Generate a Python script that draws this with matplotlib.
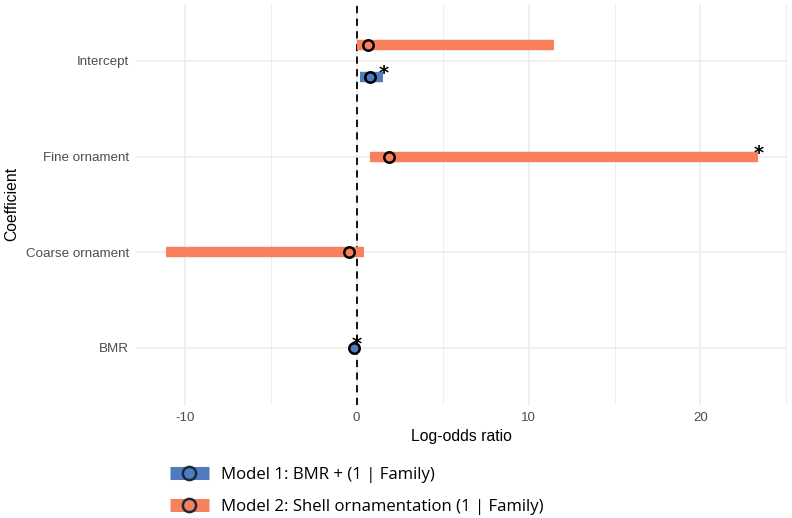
import numpy as np
import matplotlib
matplotlib.use("Agg")
import matplotlib.pyplot as plt
from matplotlib.lines import Line2D

plt.rcParams["font.family"] = ["Liberation Sans", "DejaVu Sans"]
plt.rcParams["axes.unicode_minus"] = False

# coefficient rows, bottom to top
terms = ["BMR", "Coarse ornament", "Fine ornament", "Intercept"]

# Model 1: BMR + (1 | Family)
m1_terms = ["BMR", "Intercept"]
m1_est = [-0.14, 0.77]
m1_lo = [-0.3, 0.19]
m1_hi = [-0.02, 1.55]
m1_sig = [True, True]

# Model 2: Shell ornamentation (1 | Family)
m2_terms = ["Coarse ornament", "Fine ornament", "Intercept"]
m2_est = [-0.43, 1.86, 0.66]
m2_lo = [-11.1, 0.78, 0.0]
m2_hi = [0.42, 23.33, 11.5]
m2_sig = [False, True, False]

labels = ["Model 1: BMR + (1 | Family)", "Model 2: Shell ornamentation (1 | Family)"]
colors = ["#4f7cbf", "#f8805c"]

W, H = 792, 518
fig = plt.figure(figsize=(W / 100, H / 100), dpi=100)
ax = fig.add_axes([136.3 / W, (H - 405) / H, (787.3 - 136.3) / W, (405 - 3.6) / H])

ypos = {t: i + 1 for i, t in enumerate(terms)}
both = set(m1_terms) & set(m2_terms)
dodge = 0.167

models = [
    (m1_terms, m1_est, m1_lo, m1_hi, m1_sig, -dodge),
    (m2_terms, m2_est, m2_lo, m2_hi, m2_sig, dodge),
]
for k, (tt, est, lo, hi, sig, off) in enumerate(models):
    for t, e, l, h, s in zip(tt, est, lo, hi, sig):
        y = ypos[t] + (off if t in both else 0)
        ax.plot([l, h], [y, y], color=colors[k], lw=7.5, solid_capstyle="butt", zorder=3)
        ax.plot(e, y, "o", ms=7.5, mfc=colors[k], mec="black", mew=1.8, zorder=4)
        if s:
            # significance star at the upper end of the interval
            ax.annotate("*", (h, y), xytext=(0.5, 2.5), textcoords="offset points",
                        ha="center", va="center", fontsize=14, color="black",
                        family="DejaVu Sans", fontweight="bold", zorder=5)

ax.axvline(0, color="black", lw=1.3, ls=(0, (4, 3)), zorder=2)

ax.set_xlim(-12.82, 25.05)
ax.set_ylim(0.4, 4.6)
ax.set_xticks([-10, 0, 10, 20])
ax.set_xticks([-5, 5, 15, 25], minor=True)
ax.set_yticks(range(1, len(terms) + 1))
ax.set_yticklabels(terms)
ax.tick_params(axis="both", which="both", length=0, labelsize=9.6,
               labelcolor="#4d4d4d", pad=5)
ax.grid(True, which="major", color="#ebebeb", lw=1.1, zorder=0)
ax.grid(True, which="minor", axis="x", color="#ebebeb", lw=0.6, zorder=0)
ax.set_axisbelow(True)
for sp in ax.spines.values():
    sp.set_visible(False)

ax.set_xlabel("Log-odds ratio", fontsize=11.3, labelpad=4)
ax.set_ylabel("Coefficient", fontsize=11.3, labelpad=5)

handles = [Line2D([0], [0], color=c, lw=9.4, solid_capstyle="butt", marker="o", ms=9.5,
                  mfc=c, mec="#1a2a3a", mew=1.8)
           for c in colors]
fig.legend(handles, labels, loc="upper left", bbox_to_anchor=(154.6 / W, 1 - 451.5 / H),
           frameon=False, handlelength=2.32, handletextpad=0.76, labelspacing=0.95,
           prop={"family": "Open Sans", "size": 12.1})

fig.savefig("out.png", dpi=100)
